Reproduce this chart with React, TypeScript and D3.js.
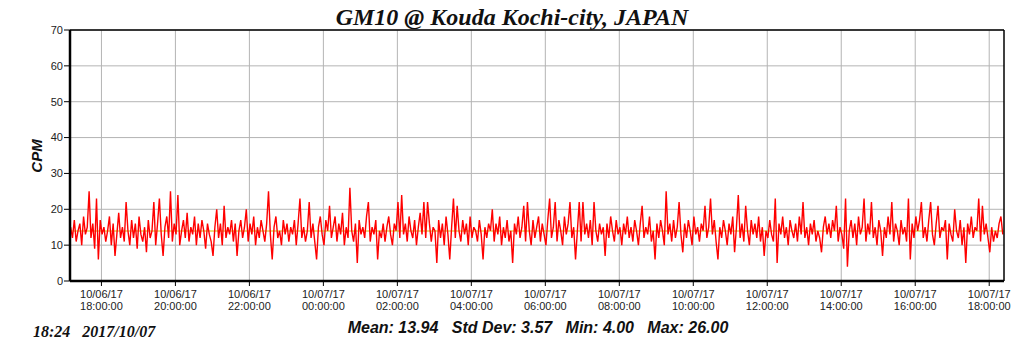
import React from 'react';
import * as d3 from 'd3';

// chart frame
const W = 1024, H = 351;
const margin = {top: 30, right: 20, bottom: 70, left: 70};
const plotW = 1004 - margin.left, plotH = 281 - margin.top;

const title = 'GM10 @ Kouda Kochi-city, JAPAN';
const yLabel = 'CPM';
const stamp = ['18:24', '2017/10/07'];
const stats = ['Mean: 13.94', 'Std Dev: 3.57', 'Min: 4.00', 'Max: 26.00'];
const meanValue = 13.94;
const yTicks = [0, 10, 20, 30, 40, 50, 60, 70];

// time range and sampling (3 min steps)
const startTime = new Date(2017, 9, 6, 17, 9);
const endTime = new Date(2017, 9, 7, 18, 24);
const firstSample = new Date(2017, 9, 6, 17, 10);
const stepMinutes = 3;

// counts per minute
const cpm = [
  15,12,17,11,14,16,10,18,13,15,
  25,12,16,9,23,6,17,13,15,11,
  14,18,10,16,7,13,19,12,15,11,
  22,14,10,17,12,16,9,18,13,11,
  15,8,17,12,14,22,10,16,23,13,
  7,15,18,12,25,11,16,13,24,10,
  14,17,12,19,11,15,13,18,10,16,
  12,17,14,9,16,13,11,7,15,20,
  12,16,10,21,12,15,13,17,11,16,
  7,14,17,12,15,20,11,16,13,18,
  10,15,12,17,14,11,16,25,13,6,
  15,18,12,14,10,17,13,16,11,15,
  13,17,10,16,23,12,15,11,14,22,
  12,16,11,6,15,18,13,10,17,14,
  21,12,15,18,11,16,13,19,10,15,
  12,26,14,11,16,5,17,13,15,12,
  18,22,11,15,13,17,6,14,12,16,
  11,15,18,13,10,16,14,22,12,24,
  13,16,11,18,14,12,17,10,15,19,
  13,22,12,22,16,11,15,14,5,17,
  12,16,10,18,13,6,15,23,12,21,
  14,11,17,13,16,10,18,12,15,14,
  11,17,13,6,15,12,16,14,20,11,
  16,13,18,10,15,12,17,11,14,5,
  16,13,18,12,15,21,11,22,14,10,
  17,12,15,18,11,16,13,10,17,23,
  12,15,22,11,17,14,10,18,13,16,
  22,12,15,6,14,22,11,22,13,16,
  12,17,10,22,14,11,16,13,15,7,
  16,12,18,14,11,17,13,15,10,16,
  13,18,12,15,11,17,14,10,16,21,
  12,15,13,18,11,14,6,16,12,17,
  14,10,25,13,16,11,17,12,15,22,
  13,8,16,12,17,14,10,18,13,15,
  11,16,14,21,12,15,23,13,17,11,
  6,15,12,17,14,10,16,13,18,8,
  15,24,12,16,11,21,14,10,17,13,
  16,12,18,11,15,7,14,12,17,13,
  11,23,5,16,13,18,12,15,10,17,
  14,12,16,11,18,13,22,12,15,10,
  16,13,17,11,14,12,8,15,18,13,
  16,12,17,14,21,11,15,13,9,23,
  4,14,17,12,16,10,18,13,15,23,
  11,16,13,22,12,15,10,17,14,7,
  15,12,18,13,22,11,16,14,10,17,
  13,15,11,23,6,16,12,18,14,17,
  22,12,15,11,17,22,13,10,16,21,
  12,15,14,17,6,16,13,11,20,14,
  12,17,10,15,5,16,13,18,12,15,
  14,23,11,21,13,16,12,8,15,11,
  14,12,16,18,13
];

const sans = 'Arial, "Liberation Sans", sans-serif';
const serif = '"Times New Roman", "Liberation Serif", serif';

export default function App() {
  const x = d3.scaleTime().domain([startTime, endTime]).range([0, plotW]);
  const y = d3.scaleLinear().domain([0, 70]).range([plotH, 0]);

  const points = cpm.map((v, i) => ({
    t: d3.timeMinute.offset(firstSample, i * stepMinutes),
    v
  }));
  const line = d3.line<{t: Date, v: number}>()
    .x(d => x(d.t))
    .y(d => y(d.v));

  const xTicks = x.ticks(d3.timeHour.every(2)!);
  const fmtDate = d3.timeFormat('%m/%d/%y');
  const fmtTime = d3.timeFormat('%H:%M:%S');

  return (
    <svg width={W} height={H} style={{display: 'block', position: 'absolute', left: 0, top: 0}}>
      <rect width={W} height={H} fill="#fff" />
      <text x={512} y={25} textAnchor="middle" fontFamily={serif} fontWeight="bold"
        fontStyle="italic" fontSize={24} fill="#111">{title}</text>

      <g transform={`translate(${margin.left},${margin.top})`}>
        {/* grid */}
        {yTicks.map(t => (
          <line key={'gy' + t} x1={0} x2={plotW} y1={y(t)} y2={y(t)} stroke="#b4b4b4" strokeWidth={1} />
        ))}
        {xTicks.map((t, i) => (
          <line key={'gx' + i} x1={x(t)} x2={x(t)} y1={0} y2={plotH} stroke="#b4b4b4" strokeWidth={1} />
        ))}

        {/* mean line */}
        <line x1={0} x2={plotW} y1={y(meanValue)} y2={y(meanValue)} stroke="#d8b800" strokeWidth={1} />

        <path d={line(points) || ''} fill="none" stroke="#ff0000" strokeWidth={1.4} strokeLinejoin="bevel" />

        {/* frame */}
        <line x1={0} x2={plotW} y1={0} y2={0} stroke="#000" strokeWidth={1.5} />
        <line x1={plotW} x2={plotW} y1={0} y2={plotH} stroke="#000" strokeWidth={1.5} />
        <line x1={0} x2={0} y1={0} y2={plotH} stroke="#000" strokeWidth={2.5} />
        <line x1={0} x2={plotW} y1={plotH} y2={plotH} stroke="#000" strokeWidth={2.5} />

        {/* y axis */}
        {yTicks.map(t => (
          <g key={'ty' + t} transform={`translate(0,${y(t)})`}>
            <line x1={-6} x2={0} stroke="#000" />
            <text x={-7} dy="0.35em" textAnchor="end" fontFamily={sans} fontSize={11} fill="#222">{t}</text>
          </g>
        ))}

        {/* x axis */}
        {xTicks.map((t, i) => (
          <g key={'tx' + i} transform={`translate(${x(t)},${plotH})`}>
            <line y1={0} y2={5} stroke="#000" />
            <text y={17} textAnchor="middle" fontFamily={sans} fontSize={11} fill="#222">{fmtDate(t)}</text>
            <text y={29} textAnchor="middle" fontFamily={sans} fontSize={11} fill="#222">{fmtTime(t)}</text>
          </g>
        ))}
      </g>

      <text transform="translate(42,156) rotate(-90)" textAnchor="middle" fontFamily={sans}
        fontWeight="bold" fontStyle="italic" fontSize={15} fill="#111">{yLabel}</text>

      <text x={33} y={337} fontFamily={serif} fontWeight="bold" fontStyle="italic" fontSize={16}
        fill="#111" style={{whiteSpace: 'pre'}}>{stamp.join('   ')}</text>

      <text x={538} y={333} textAnchor="middle" fontFamily={sans} fontWeight="bold" fontStyle="italic"
        fontSize={16} fill="#111" style={{whiteSpace: 'pre'}}>{stats.join('   ')}</text>
    </svg>
  );
}
